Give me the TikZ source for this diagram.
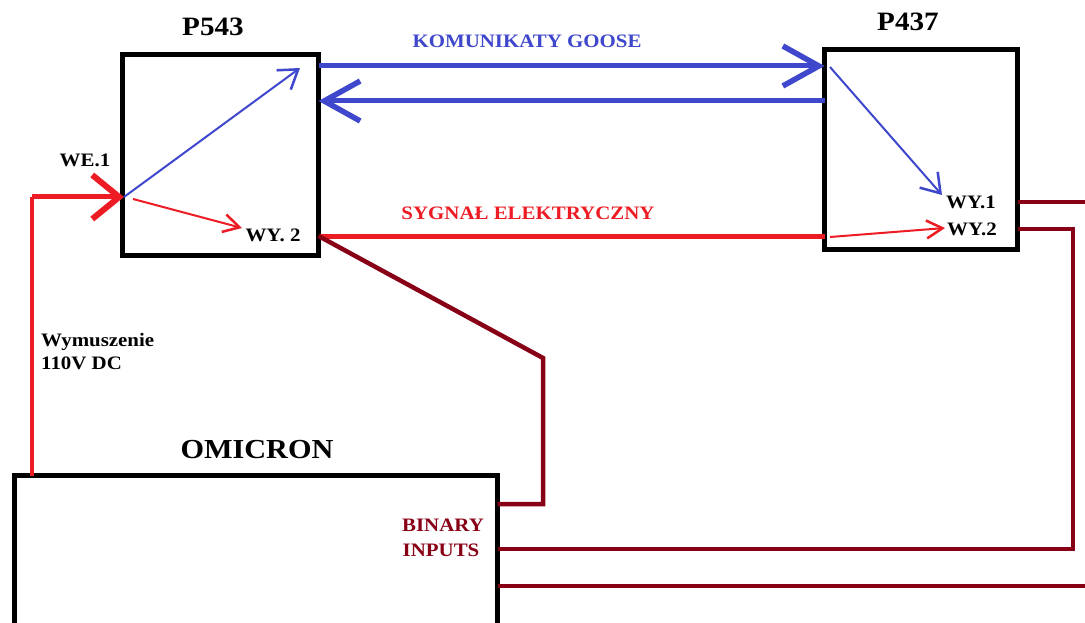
\documentclass[tikz,border=0pt]{standalone}
\usepackage{fontspec}
\setmainfont[FakeStretch=1.1]{Liberation Serif}
\usetikzlibrary{arrows.meta}
\definecolor{pblue}{RGB}{63,72,204}
\definecolor{pred}{RGB}{237,28,36}
\definecolor{pdark}{RGB}{136,0,21}
\tikzset{
  box/.style={draw=black, line width=5pt, rectangle, inner sep=0pt, outer sep=0pt, fill=none},
  title/.style={inner sep=0pt, font=\fontsize{26.5}{30}\selectfont\bfseries},
  lbl/.style={inner sep=0pt, font=\fontsize{19}{23}\selectfont\bfseries},
  goose/.style={pblue, line width=5pt, -{Straight Barb[length=36pt, width=40pt, line width=5.5pt]}},
  thinblue/.style={pblue, line width=2pt, -{Straight Barb[length=18pt, width=24pt, line width=2.5pt]}},
  thinred/.style={pred, line width=2pt, -{Straight Barb[length=16pt, width=18pt, line width=2.5pt]}},
  redline/.style={pred, line width=4.5pt},
  wire/.style={pdark, line width=4.5pt, line join=miter},
}
\begin{document}
\begin{tikzpicture}[x=1pt, y=-1pt]
\useasboundingbox (0,0) rectangle (1085,623);
\clip (0,0) rectangle (1085,623);
\fill[white] (0,0) rectangle (1085,623);

% boxes
\node[box, minimum width=196pt, minimum height=201pt] (P543) at (220.5,155) {};
\node[box, minimum width=193pt, minimum height=200pt] (P437) at (921,149.5) {};
\node[box, minimum width=483pt, minimum height=260pt, anchor=north west] (OMI) at (14.5,475.5) {};

% titles
\node[title] (tP543) at (213,27) {P543};
\node[title] (tP437) at (908,22) {P437};
\node[title, font=\fontsize{27.5}{31}\selectfont\bfseries] (tOMI) at (257,450) {OMICRON};

% labels
\node[lbl, pblue] (tGoose) at (527,41) {KOMUNIKATY GOOSE};
\node[lbl, pred] (tSyg) at (528,213) {SYGNAŁ ELEKTRYCZNY};
\node[lbl] (tWE) at (85,160) {WE.1};
\node[lbl] (tWY2a) at (273,235) {WY. 2};
\node[lbl] (tWY1b) at (971,202) {WY.1};
\node[lbl] (tWY2b) at (972,229) {WY.2};
\node[lbl, anchor=base west] (tWym) at (41,346.5) {Wymuszenie};
\node[lbl, anchor=base west] (tDC) at (41,369.5) {110V DC};
\node[lbl, pdark] (tBin) at (443,525) {BINARY};
\node[lbl, pdark] (tInp) at (441,550) {INPUTS};

% connection points
\coordinate (we1) at (124,197);
\coordinate (src) at (32,197);
\coordinate (omiTop) at (32,475.5);
\coordinate (p543out1) at (300,68);
\coordinate (p543wy2s) at (133,199);
\coordinate (p543wy2e) at (242,228);
\coordinate (gA) at (P543.east |- 0,66);
\coordinate (gB) at (P437.west |- 0,66);
\coordinate (gC) at (P437.west |- 0,101);
\coordinate (gD) at (P543.east |- 0,101);
\coordinate (sA) at (P543.east |- 0,236);
\coordinate (sB) at (P437.west |- 0,236);
\coordinate (in437s) at (830,67);
\coordinate (wy1e) at (942,195);
\coordinate (in437r) at (830,237);
\coordinate (wy2e) at (945,228);
\coordinate (d1) at (543,358);
\coordinate (d2) at (543,504);
\coordinate (d3) at (OMI.east |- 0,504);
\coordinate (w2a) at (P437.east |- 0,229);
\coordinate (w2b) at (1073,229);
\coordinate (w2c) at (1073,549);
\coordinate (w2d) at (OMI.east |- 0,549);
\coordinate (w1a) at (P437.east |- 0,202);
\coordinate (w1b) at (1090,202);
\coordinate (w3a) at (OMI.east |- 0,586);
\coordinate (w3b) at (1090,586);

% red forcing input
\draw[redline] (omiTop) -- (src);
\draw[pred, line width=5pt, -{Straight Barb[length=27pt, width=44pt, line width=6pt]}] (src) -- (we1);

% inner arrows
\draw[thinblue] (we1) -- (p543out1);
\draw[thinred] (p543wy2s) -- (p543wy2e);
\draw[thinblue] (in437s) -- (wy1e);
\draw[thinred] (in437r) -- (wy2e);

% GOOSE
\draw[goose] (gA) -- (gB);
\draw[goose] (gC) -- (gD);

% electrical signal
\draw[redline, line width=5pt] (sA) -- (sB);

% dark red wires
\draw[wire] (sA) -- (d1) -- (d2) -- (d3);
\draw[wire] (w2a) -- (w2b) -- (w2c) -- (w2d);
\draw[wire] (w1a) -- (w1b);
\draw[wire] (w3a) -- (w3b);
\end{tikzpicture}
\end{document}
